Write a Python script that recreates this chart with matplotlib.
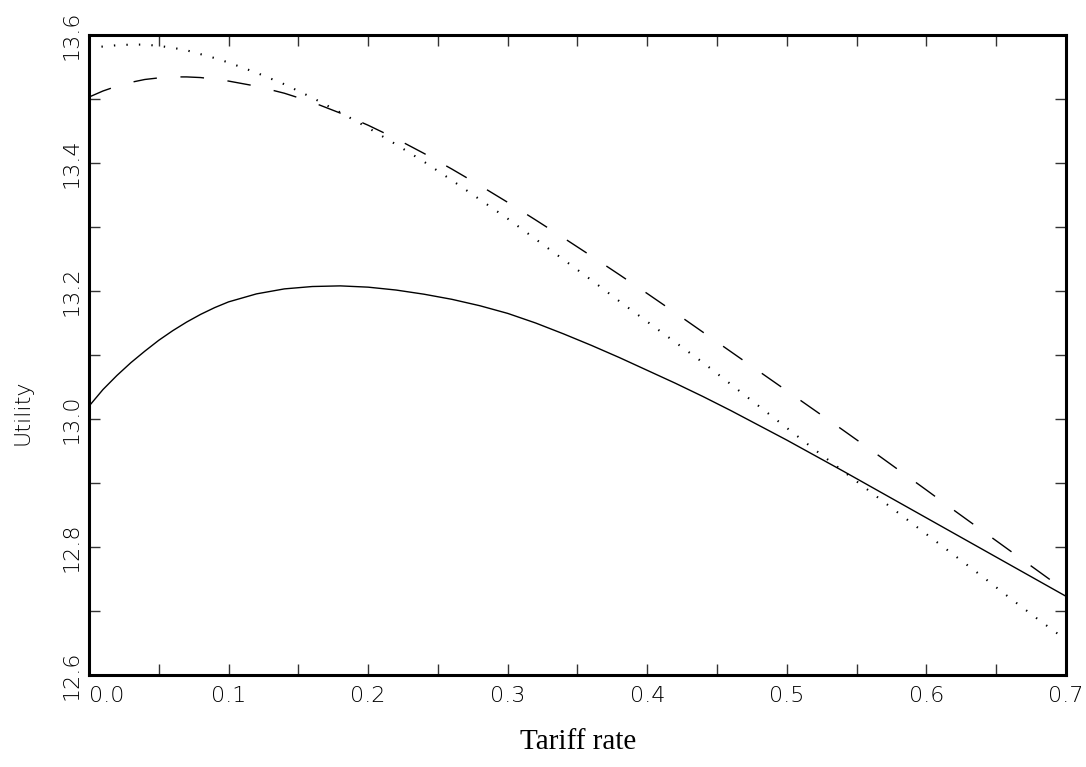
import matplotlib
matplotlib.use("Agg")
import matplotlib.pyplot as plt
from matplotlib.ticker import MultipleLocator, FixedLocator

# tariff rate grid and utility
tariff = [0.00, 0.01, 0.02, 0.03, 0.04, 0.05, 0.06, 0.07, 0.08, 0.09,
          0.10, 0.12, 0.14, 0.16, 0.18, 0.20, 0.22, 0.24, 0.26, 0.28,
          0.30, 0.32, 0.34, 0.36, 0.38, 0.40, 0.42, 0.44, 0.46, 0.48,
          0.50, 0.52, 0.54, 0.56, 0.58, 0.60, 0.62, 0.64, 0.66, 0.68, 0.70]

utility_solid = [13.020, 13.046, 13.068, 13.088, 13.106, 13.123, 13.138, 13.1515, 13.1635, 13.174,
                 13.183, 13.1955, 13.2033, 13.207, 13.208, 13.206, 13.2015, 13.195, 13.187, 13.177,
                 13.165, 13.150, 13.133, 13.115, 13.096, 13.076, 13.056, 13.035, 13.013, 12.990,
                 12.967, 12.943, 12.919, 12.8945, 12.870, 12.8455, 12.821, 12.7965, 12.772, 12.7475, 12.723]

utility_dashed = [13.503, 13.5125, 13.520, 13.526, 13.5305, 13.533, 13.5345, 13.5345, 13.5335, 13.531,
                  13.528, 13.520, 13.509, 13.495, 13.478, 13.459, 13.438, 13.415, 13.3905, 13.365,
                  13.3385, 13.311, 13.283, 13.2545, 13.2255, 13.196, 13.166, 13.1355, 13.105, 13.0745,
                  13.044, 13.0135, 12.983, 12.952, 12.9205, 12.889, 12.857, 12.8255, 12.794, 12.7625, 12.731]

utility_dotted = [13.580, 13.582, 13.584, 13.585, 13.585, 13.583, 13.580, 13.576, 13.570, 13.564,
                  13.557, 13.541, 13.523, 13.502, 13.479, 13.455, 13.429, 13.402, 13.373, 13.343,
                  13.313, 13.281, 13.249, 13.217, 13.184, 13.152, 13.120, 13.088, 13.054, 13.020,
                  12.986, 12.952, 12.919, 12.886, 12.853, 12.820, 12.787, 12.754, 12.720, 12.687, 12.655]

x_ticks = [0.0, 0.1, 0.2, 0.3, 0.4, 0.5, 0.6, 0.7]
y_ticks = [12.6, 12.8, 13.0, 13.2, 13.4, 13.6]

plt.rcParams["lines.scale_dashes"] = False
tick_font = dict(family=["DejaVu Sans"], size=16, weight="light")

fig = plt.figure(figsize=(10.86, 7.67), dpi=100)
ax = fig.add_axes([0.08195, 0.11995, 0.89963, 0.83442])

# the three curves
ax.plot(tariff, utility_solid, color="black", linewidth=1.0)
ax.plot(tariff, utility_dashed, color="black", linewidth=1.0, dashes=(17.0, 17.0))
ax.plot(tariff, utility_dotted, color="black", linewidth=1.5, dashes=(1.0, 8.0))

ax.set_xlim(0.0, 0.7)
ax.set_ylim(12.6, 13.6)

# ticks on all sides, pointing in
ax.xaxis.set_major_locator(FixedLocator(x_ticks))
ax.yaxis.set_major_locator(FixedLocator(y_ticks))
ax.xaxis.set_minor_locator(MultipleLocator(0.05))
ax.yaxis.set_minor_locator(MultipleLocator(0.1))
ax.tick_params(which="both", direction="in", top=True, right=True,
               length=8, width=1.0, color="#333333")
ax.tick_params(axis="x", pad=8)
ax.tick_params(axis="y", pad=5)

ax.set_xticklabels(["%.1f" % v for v in x_ticks], fontdict=tick_font)
ax.set_yticklabels(["%.1f" % v for v in y_ticks], fontdict=tick_font,
                   rotation=90, va="center")
ax.get_xticklabels()[0].set_horizontalalignment("left")

for s in ax.spines.values():
    s.set_linewidth(2.2)

fig.text(0.021, 0.463, "Utility", rotation=90, ha="center", va="center",
         fontsize=16, family=["DejaVu Sans"], weight="light")
fig.text(0.532, 0.033, "Tariff rate", ha="center", va="center",
         fontsize=21, family=["Liberation Serif", "DejaVu Serif"])

fig.savefig("out.png", dpi=100)
